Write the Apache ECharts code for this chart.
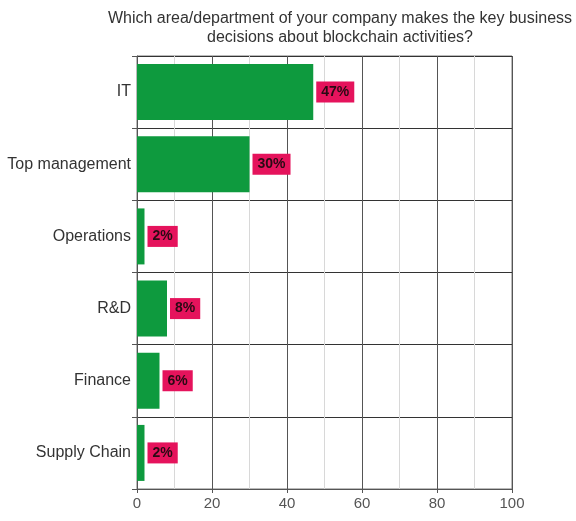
<!DOCTYPE html>
<html>
<head>
<meta charset="utf-8">
<script src="https://cdn.jsdelivr.net/npm/echarts@6/dist/echarts.min.js"></script>
<style>
  html, body { margin: 0; padding: 0; background: #fff; }
  #chart { width: 576px; height: 521px; }
</style>
</head>
<body>
<div id="chart"></div>
<script>
// Departments and share of respondents (%) naming each one
const departments = ['IT', 'Top management', 'Operations', 'R&D', 'Finance', 'Supply Chain'];
const shares = [47, 30, 2, 8, 6, 2];
const axisTicks = [0, 20, 40, 60, 80, 100];

const chart = echarts.init(document.getElementById('chart'));
const FONT = 'Liberation Sans, Arial, sans-serif';

chart.setOption({
  backgroundColor: '#ffffff',
  animation: false,
  title: {
    text: 'Which area/department of your company makes the key business\ndecisions about blockchain activities?',
    left: 335,
    top: 4,
    textAlign: 'center',
    textStyle: {
      fontFamily: FONT,
      fontSize: 16,
      fontWeight: 'normal',
      color: '#333',
      lineHeight: 19
    }
  },
  grid: {
    left: 137,
    right: 64,
    top: 56,
    bottom: 32,
    show: true,
    borderColor: '#777',
    borderWidth: 1
  },
  xAxis: {
    type: 'value',
    min: axisTicks[0],
    max: axisTicks[axisTicks.length - 1],
    interval: 20,
    axisLine: { show: true, lineStyle: { color: '#555', width: 1 } },
    axisTick: { show: true, length: 4, lineStyle: { color: '#555' } },
    axisLabel: {
      color: '#555',
      fontFamily: FONT,
      fontSize: 15,
      margin: 7
    },
    splitLine: { show: true, lineStyle: { color: '#555', width: 1 } },
    minorTick: { show: false, splitNumber: 2 },
    minorSplitLine: { show: true, lineStyle: { color: '#d8d8d8', width: 1 } }
  },
  yAxis: {
    type: 'category',
    data: departments,
    inverse: true,
    axisLine: { show: true, lineStyle: { color: '#555', width: 1 } },
    axisTick: { show: true, length: 5, lineStyle: { color: '#555' } },
    axisLabel: {
      color: '#333',
      fontFamily: FONT,
      fontSize: 16,
      margin: 6
    },
    splitLine: { show: true, lineStyle: { color: '#333', width: 1 } }
  },
  series: [{
    type: 'bar',
    data: shares,
    barWidth: 56,
    itemStyle: { color: '#0e9a3e' },
    label: {
      show: true,
      position: 'right',
      distance: 3,
      formatter: '{c}%',
      backgroundColor: '#e5135c',
      padding: [4, 5, 3, 5],
      color: '#2a0a14',
      fontFamily: FONT,
      fontSize: 14,
      fontWeight: 'bold'
    }
  }]
});
</script>
</body>
</html>
